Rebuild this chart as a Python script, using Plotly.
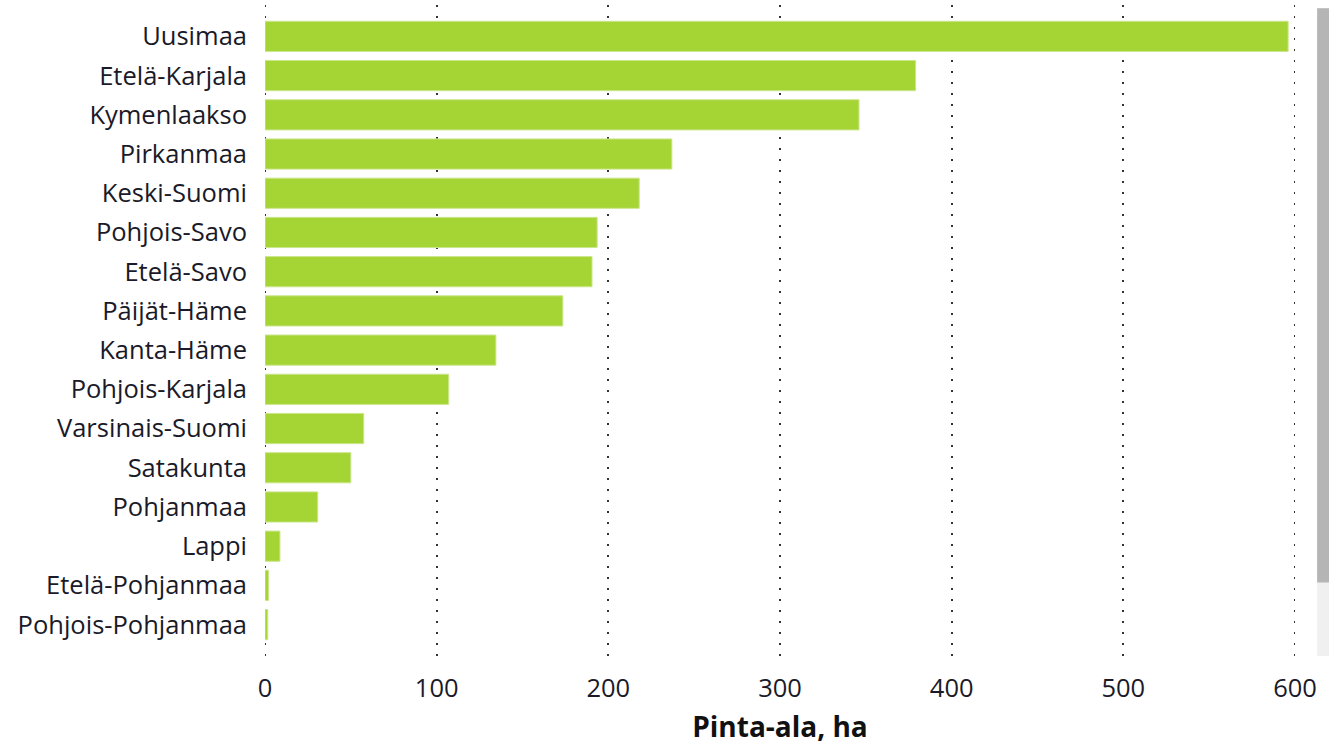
import plotly.graph_objects as go

regions = ["Uusimaa", "Etelä-Karjala", "Kymenlaakso", "Pirkanmaa", "Keski-Suomi",
           "Pohjois-Savo", "Etelä-Savo", "Päijät-Häme", "Kanta-Häme", "Pohjois-Karjala",
           "Varsinais-Suomi", "Satakunta", "Pohjanmaa", "Lappi", "Etelä-Pohjanmaa",
           "Pohjois-Pohjanmaa"]
area_ha = [596, 379, 346, 237, 218, 193.5, 190.5, 173.5, 134.5, 107,
           57.5, 50, 30.7, 8.7, 2.1, 1.6]
x_ticks = [0, 100, 200, 300, 400, 500, 600]
x_title = "Pinta-ala, ha"

font_family = "Open Sans, DejaVu Sans, sans-serif"
text_color = "#1a1a28"
grid_color = "#333333"
grid_dash = "2px,9px"

fig = go.Figure(go.Bar(
    x=area_ha, y=regions, orientation="h",
    marker=dict(color="#a5d435", line=dict(color="#cce68c", width=1)),
    width=0.77,
    hoverinfo="x+y",
))

# edge gridlines (plotly skips gridlines at the exact range ends)
edge_lines = [dict(type="line", xref="x", yref="paper", x0=v, x1=v, y0=0, y1=1,
                   line=dict(color=grid_color, width=2, dash=grid_dash), layer="below")
              for v in (x_ticks[0], x_ticks[-1])]

fig.update_layout(
    width=1340, height=747,
    margin=dict(l=265, r=45, t=5, b=91),
    paper_bgcolor="white", plot_bgcolor="white",
    showlegend=False,
    font=dict(family=font_family, size=25.5, color=text_color),
    xaxis=dict(
        range=[x_ticks[0], x_ticks[-1]], tickvals=x_ticks, ticktext=[str(v) for v in x_ticks],
        showgrid=True, gridcolor=grid_color, gridwidth=2, griddash=grid_dash,
        zeroline=False, showline=False, ticks="", ticklen=0,
        tickfont=dict(size=25.5, color=text_color),
        ticklabelstandoff=14,
        title=dict(text="<b>" + x_title + "</b>", font=dict(size=28, color="#111111"), standoff=14),
    ),
    yaxis=dict(
        categoryorder="array", categoryarray=regions,
        range=[len(regions) - 0.5 + 0.3, -0.5 - 0.3],
        showgrid=False, zeroline=False, showline=False, ticks="",
        tickfont=dict(size=25.5, color=text_color),
        ticklabelstandoff=17,
    ),
    shapes=edge_lines + [
        dict(type="rect", xref="paper", yref="paper", x0=1.0215, x1=1.033, y0=0.0, y1=0.995,
             fillcolor="#f0f0f0", line=dict(width=0), layer="above"),
        dict(type="rect", xref="paper", yref="paper", x0=1.0215, x1=1.033, y0=0.113, y1=0.995,
             fillcolor="#b5b5b5", line=dict(width=0), layer="above"),
    ],
)

fig.write_html("out.html", config={"displayModeBar": False},
               post_script="document.body.style.margin='0';")
